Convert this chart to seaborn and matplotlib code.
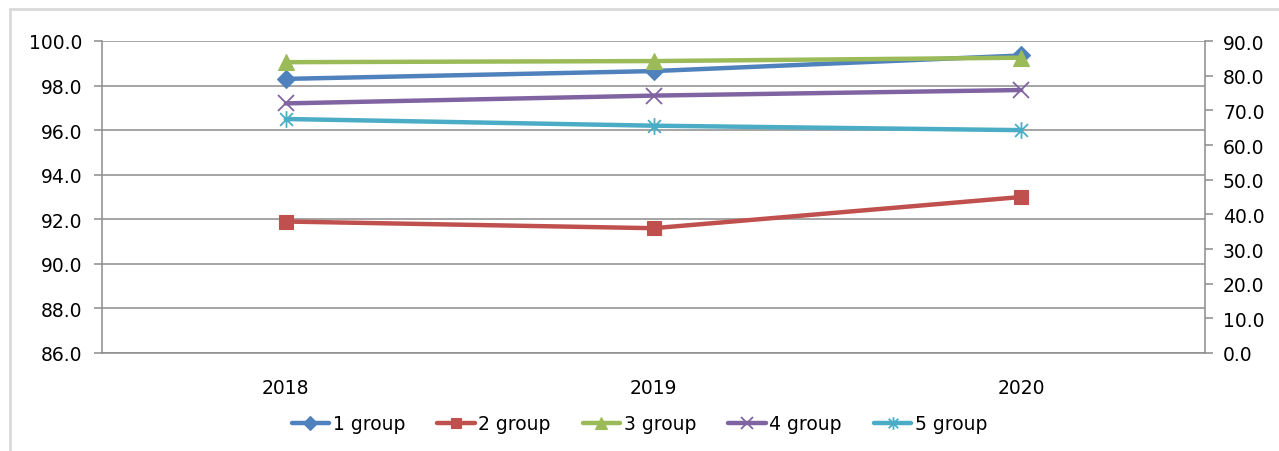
import numpy as np
import pandas as pd
import matplotlib
matplotlib.use("Agg")
import matplotlib.pyplot as plt
from matplotlib.path import Path
from matplotlib.patches import Rectangle
from matplotlib.ticker import FixedLocator, FormatStrFormatter
import seaborn as sns

# ---- data ----
years = ["2018", "2019", "2020"]
group_names = ["1 group", "2 group", "3 group", "4 group", "5 group"]
group1 = [98.3, 98.65, 99.35]
group2 = [91.9, 91.6, 93.0]
group3 = [99.05, 99.1, 99.25]
group4 = [97.2, 97.55, 97.8]
group5 = [96.5, 96.2, 96.0]
left_ticks = [86.0, 88.0, 90.0, 92.0, 94.0, 96.0, 98.0, 100.0]
right_ticks = [0.0, 10.0, 20.0, 30.0, 40.0, 50.0, 60.0, 70.0, 80.0, 90.0]

colors = ["#4F81BD", "#C0504D", "#9BBB59", "#8064A2", "#4BACC6"]

# asterisk marker: an "x" with a vertical stroke through it
star_path = Path(
    [(-1, -1), (1, 1), (-1, 1), (1, -1), (0, -1.3), (0, 1.3)],
    [Path.MOVETO, Path.LINETO, Path.MOVETO, Path.LINETO, Path.MOVETO, Path.LINETO],
)
markers = {"1 group": "D", "2 group": "s", "3 group": "^", "4 group": "x", "5 group": star_path}
msizes = {"1 group": 9, "2 group": 10, "3 group": 11, "4 group": 11, "5 group": 12}

series = [group1, group2, group3, group4, group5]
df = pd.DataFrame({
    "year": np.repeat([years], len(group_names), axis=0).ravel(),
    "group": np.repeat(group_names, len(years)),
    "value": np.concatenate(series),
})

sns.set_style("white")
plt.rcParams["font.family"] = ["DejaVu Sans"]
plt.rcParams["text.color"] = "black"

fig = plt.figure(figsize=(12.79, 4.52), dpi=100)
ax = fig.add_axes([102 / 1279, 1 - 354 / 452, (1205 - 102) / 1279, (354 - 42) / 452])

# outer chart frame
fig.patches.append(Rectangle((10 / 1279, -0.1), 1.2, 1 - 10 / 452 + 0.1,
                             transform=fig.transFigure, fill=False,
                             edgecolor="#d9d9d9", linewidth=2, zorder=0))

grid_col = "#8c8c8c"
fs = 13.5
ax.set_ylim(86, 100)
ax.yaxis.set_major_locator(FixedLocator(left_ticks))
ax.yaxis.set_major_formatter(FormatStrFormatter("%.1f"))
ax.grid(axis="y", color=grid_col, linewidth=1.1, zorder=0)
ax.set_axisbelow(True)

for name, col in zip(group_names, colors):
    sub = df[df["group"] == name]
    sns.lineplot(data=sub, x="year", y="value", ax=ax, color=col,
                 linewidth=3.2, marker=markers[name], markersize=msizes[name],
                 markeredgecolor=col, markerfacecolor=col,
                 markeredgewidth=1.3 if name in ("4 group", "5 group") else 0.8,
                 label=name, legend=False, zorder=3)

ax.set_xlim(-0.5, 2.5)
ax.set_xticks([0, 1, 2])
ax.set_xticklabels(years)
ax.set_xticks([-0.5, 0.5, 1.5, 2.5], minor=True)
ax.set_xlabel("")
ax.set_ylabel("")

for side in ("top", "right"):
    ax.spines[side].set_visible(False)
for side in ("left", "bottom"):
    ax.spines[side].set_color(grid_col)
    ax.spines[side].set_linewidth(1.1)

ax.tick_params(axis="x", which="major", length=0, pad=18, labelsize=fs, colors="black")
ax.tick_params(axis="x", which="minor", length=6, width=1.1, color=grid_col, direction="out")
ax.tick_params(axis="y", length=6, width=1.1, color=grid_col, direction="out",
               pad=8, labelsize=fs, labelcolor="black", left=True)

ax2 = ax.twinx()
ax2.set_ylim(0, 90)
ax2.yaxis.set_major_locator(FixedLocator(right_ticks))
ax2.yaxis.set_major_formatter(FormatStrFormatter("%.1f"))
for side in ("top", "left", "bottom"):
    ax2.spines[side].set_visible(False)
ax2.spines["right"].set_color(grid_col)
ax2.spines["right"].set_linewidth(1.1)
ax2.tick_params(axis="y", length=6, width=1.1, color=grid_col, direction="out",
                pad=7, labelsize=fs, labelcolor="black", right=True)
ax2.grid(False)

handles, labels = ax.get_legend_handles_labels()
fig.legend(handles, labels, loc="center", bbox_to_anchor=(0.5, 1 - 425 / 452),
           ncol=5, frameon=False, fontsize=fs, handlelength=2.0, markerscale=0.75,
           handletextpad=0.2, columnspacing=1.7, labelcolor="black")

fig.savefig("out.png", dpi=100, facecolor="white")
